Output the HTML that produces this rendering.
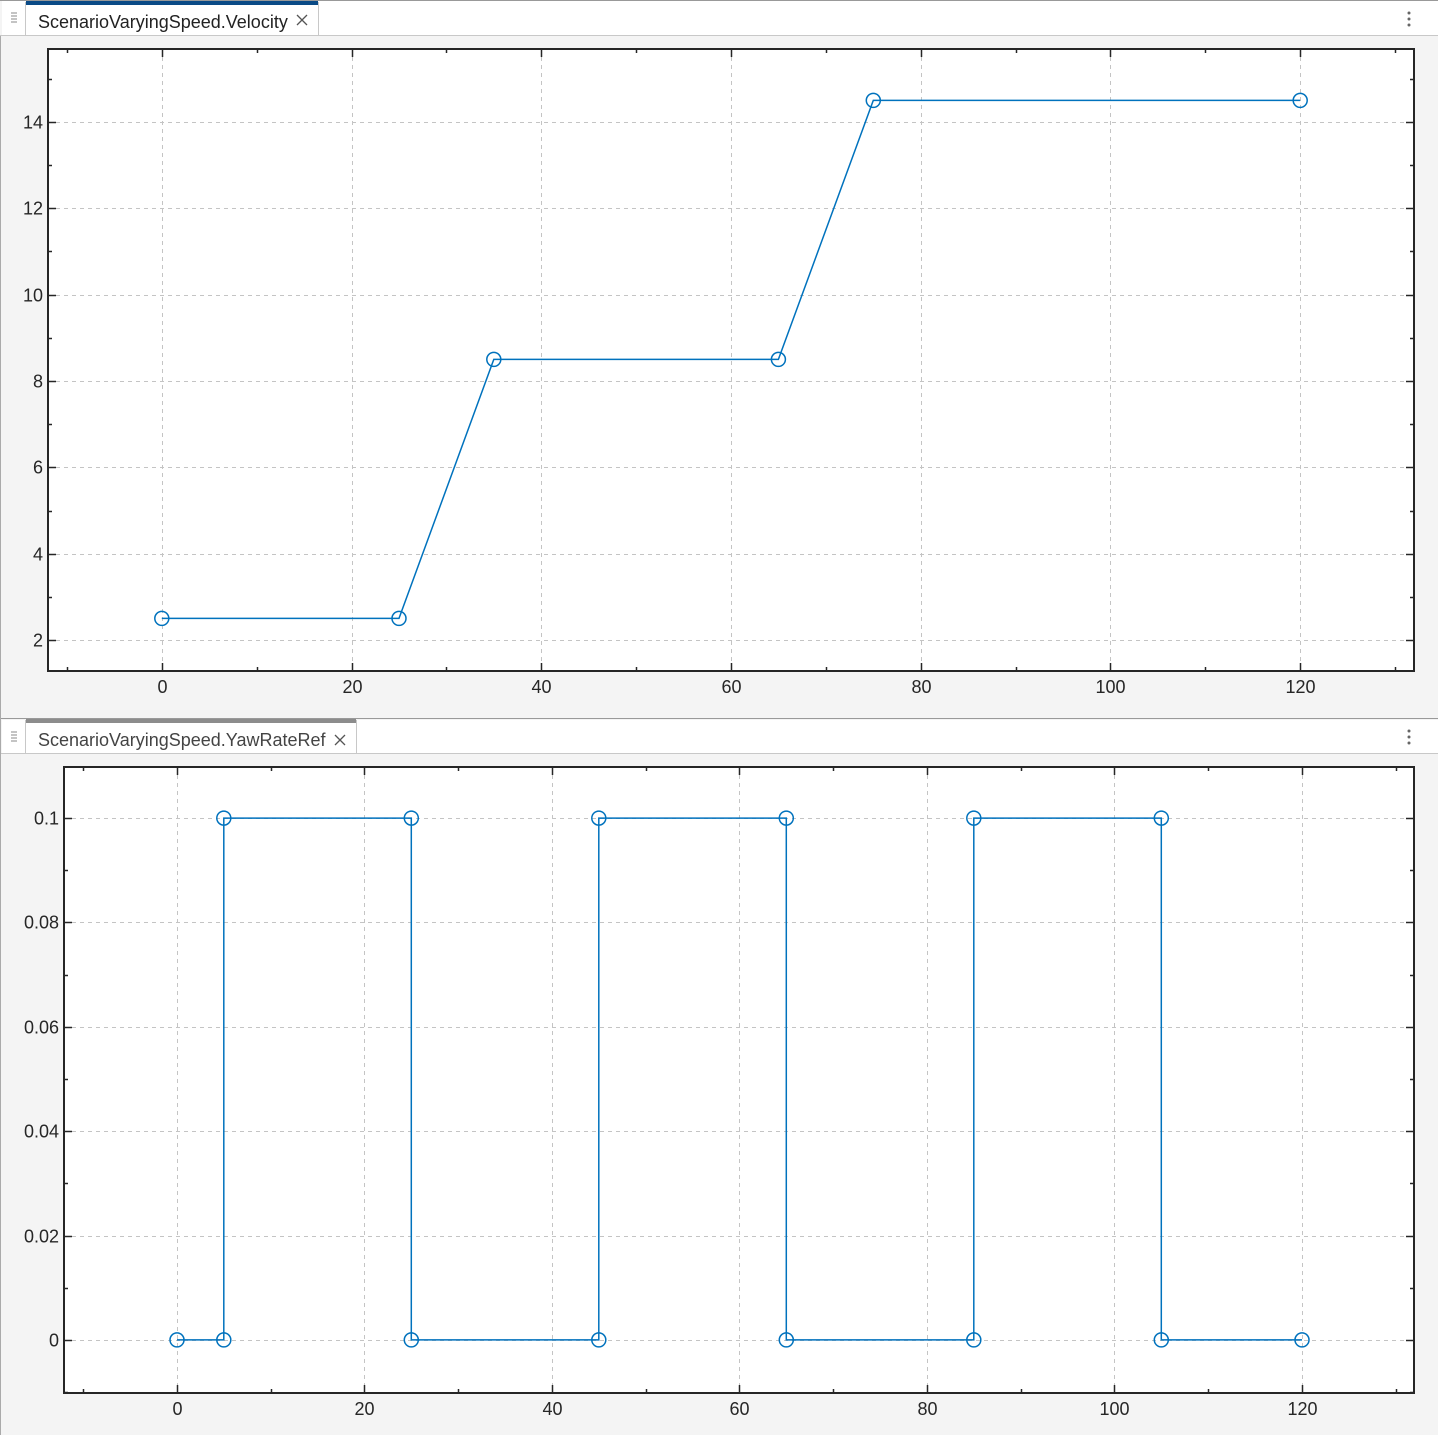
<!DOCTYPE html>
<html><head><meta charset="utf-8"><style>
html,body{margin:0;padding:0;background:#f4f4f4;}
body{width:1438px;height:1435px;overflow:hidden;position:relative;font-family:"Liberation Sans",Arial,sans-serif;}
</style></head><body>
<svg id="s" width="1438" height="1435" xmlns="http://www.w3.org/2000/svg" style="position:absolute;left:0;top:0">
<rect x="0" y="0" width="1438" height="1435" fill="#f4f4f4"/>
<!-- top tab bar -->
<rect x="2" y="0" width="1436" height="35" fill="#ffffff"/>
<line x1="0" y1="0.5" x2="1438" y2="0.5" stroke="#999"/>
<line x1="0" y1="35.5" x2="1438" y2="35.5" stroke="#c8c8c8"/>
<line x1="26" y1="3" x2="318" y2="3" stroke="#0a4a86" stroke-width="4"/>
<line x1="318.5" y1="2" x2="318.5" y2="35" stroke="#c8c8c8"/>
<line x1="25.5" y1="2" x2="25.5" y2="35" stroke="#c8c8c8"/>
<text x="38" y="28" font-size="18" fill="#222">ScenarioVaryingSpeed.Velocity</text>
<path d="M297 15 L307 25 M307 15 L297 25" stroke="#555" stroke-width="1.3"/>
<path d="M11 13h6M11 16h6M11 19h6M11 22h6" stroke="#888" stroke-width="1"/>
<circle cx="1409" cy="13" r="1.5" fill="#666"/><circle cx="1409" cy="19" r="1.5" fill="#666"/><circle cx="1409" cy="25" r="1.5" fill="#666"/>
<!-- divider -->
<line x1="0" y1="718.5" x2="1438" y2="718.5" stroke="#999"/>
<!-- bottom tab bar -->
<rect x="2" y="720" width="1436" height="33" fill="#ffffff"/>
<line x1="0" y1="753.5" x2="1438" y2="753.5" stroke="#c8c8c8"/>
<line x1="26" y1="721" x2="356" y2="721" stroke="#8c8c8c" stroke-width="4"/>
<line x1="356.5" y1="720" x2="356.5" y2="753" stroke="#c8c8c8"/>
<line x1="25.5" y1="720" x2="25.5" y2="753" stroke="#c8c8c8"/>
<text x="38" y="746" font-size="18" fill="#444">ScenarioVaryingSpeed.YawRateRef</text>
<path d="M335 735 L345 745 M345 735 L335 745" stroke="#555" stroke-width="1.3"/>
<path d="M11 732h6M11 735h6M11 738h6M11 741h6" stroke="#888" stroke-width="1"/>
<circle cx="1409" cy="731" r="1.5" fill="#666"/><circle cx="1409" cy="737" r="1.5" fill="#666"/><circle cx="1409" cy="743" r="1.5" fill="#666"/>
<line x1="0.5" y1="36" x2="0.5" y2="1435" stroke="#aaa"/>
<g id="g"></g>
</svg>
<script>
var NS="http://www.w3.org/2000/svg",g=document.getElementById("g"),h="";
function plot(L,R,T,B,xmin,xmax,ymin,ymax,ymaj,ymin2,ylabels,pts){
 var X=function(v){return L+(v-xmin)/(xmax-xmin)*(R-L)},Y=function(v){return B-(v-ymin)/(ymax-ymin)*(B-T)};
 h+='<rect x="'+L+'" y="'+T+'" width="'+(R-L)+'" height="'+(B-T)+'" fill="#fff"/>';
 for(var v=0;v<=120;v+=20){var x=Math.round(X(v))+0.5;
  h+='<line x1="'+x+'" y1="'+T+'" x2="'+x+'" y2="'+B+'" stroke="#c4c4c4" stroke-dasharray="4,4"/>';
  h+='<line x1="'+x+'" y1="'+T+'" x2="'+x+'" y2="'+(T+8)+'" stroke="#262626" stroke-width="1.5"/><line x1="'+x+'" y1="'+B+'" x2="'+x+'" y2="'+(B-8)+'" stroke="#262626" stroke-width="1.5"/>';
  h+='<text x="'+x+'" y="'+(B+22)+'" font-size="18" fill="#262626" text-anchor="middle">'+v+'</text>';}
 for(var v=-10;v<=130;v+=20){var x=Math.round(X(v))+0.5;
  h+='<line x1="'+x+'" y1="'+T+'" x2="'+x+'" y2="'+(T+4)+'" stroke="#262626" stroke-width="1.5"/><line x1="'+x+'" y1="'+B+'" x2="'+x+'" y2="'+(B-4)+'" stroke="#262626" stroke-width="1.5"/>';}
 ylabels.forEach(function(a){var y=Math.round(Y(a[0]))+0.5;
  h+='<line x1="'+L+'" y1="'+y+'" x2="'+R+'" y2="'+y+'" stroke="#c4c4c4" stroke-dasharray="4,4"/>';
  h+='<line x1="'+L+'" y1="'+y+'" x2="'+(L+8)+'" y2="'+y+'" stroke="#262626" stroke-width="1.5"/><line x1="'+R+'" y1="'+y+'" x2="'+(R-8)+'" y2="'+y+'" stroke="#262626" stroke-width="1.5"/>';
  h+='<text x="'+(L-5)+'" y="'+(y+6)+'" font-size="18" fill="#262626" text-anchor="end">'+a[1]+'</text>';});
 ymin2.forEach(function(v){var y=Math.round(Y(v))+0.5;
  h+='<line x1="'+L+'" y1="'+y+'" x2="'+(L+4)+'" y2="'+y+'" stroke="#262626" stroke-width="1.5"/><line x1="'+R+'" y1="'+y+'" x2="'+(R-4)+'" y2="'+y+'" stroke="#262626" stroke-width="1.5"/>';});
 h+='<rect x="'+L+'" y="'+T+'" width="'+(R-L)+'" height="'+(B-T)+'" fill="none" stroke="#262626" stroke-width="2"/>';
 var d=pts.map(function(p,i){return (i?'L':'M')+X(p[0]).toFixed(1)+' '+Y(p[1]).toFixed(1)}).join(' ');
 h+='<path d="'+d+'" fill="none" stroke="#0072BD" stroke-width="1.5"/>';
 pts.forEach(function(p){h+='<circle cx="'+X(p[0]).toFixed(1)+'" cy="'+Y(p[1]).toFixed(1)+'" r="7" fill="none" stroke="#0072BD" stroke-width="1.5"/>';});
}
plot(48,1414,49,671,-12,132,1.282,15.691,0,[3,5,7,9,11,13,15],[[2,2],[4,4],[6,6],[8,8],[10,10],[12,12],[14,14]],
 [[0,2.5],[25,2.5],[35,8.5],[65,8.5],[75,14.5],[120,14.5]]);
plot(64,1414,767,1393,-12.05,131.95,-0.01017,0.1098,0,[-0.01,0.01,0.03,0.05,0.07,0.09],[[0,'0'],[0.02,'0.02'],[0.04,'0.04'],[0.06,'0.06'],[0.08,'0.08'],[0.1,'0.1']],
 [[0,0],[5,0],[5,0.1],[25,0.1],[25,0],[45,0],[45,0.1],[65,0.1],[65,0],[85,0],[85,0.1],[105,0.1],[105,0],[120,0]]);
g.innerHTML=h;
</script>
</body></html>
